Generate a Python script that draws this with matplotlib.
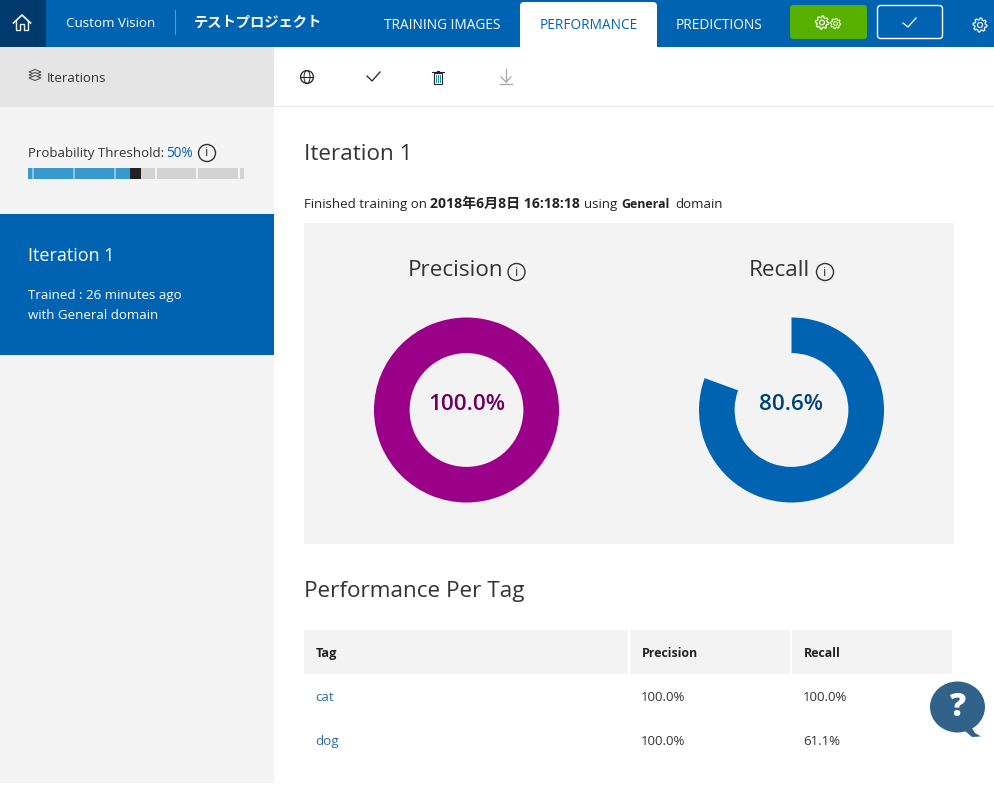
import numpy as np
import matplotlib
matplotlib.use("Agg")
import matplotlib.pyplot as plt
from matplotlib.patches import Rectangle, FancyBboxPatch, Circle, Polygon, Ellipse

plt.rcParams['font.family'] = ['Open Sans', 'Noto Sans CJK JP', 'DejaVu Sans']

W, H = 995, 787
BLUE = '#0063B1'
INK = '#333333'

tabs = ['TRAINING IMAGES', 'PERFORMANCE', 'PREDICTIONS']
tags = ['cat', 'dog']
tag_precision = [100.0, 100.0]
tag_recall = [100.0, 61.1]
overall_precision = 100.0
overall_recall = 80.6
threshold = 50
threshold_ticks = [0, 20, 40, 60, 80, 100]
project = 'テストプロジェクト'

fig = plt.figure(figsize=(W / 100, H / 100), dpi=100, facecolor='white')
ax = fig.add_axes([0, 0, 1, 1])
ax.set_xlim(0, W)
ax.set_ylim(H, 0)
ax.axis('off')


def rect(x0, y0, x1, y1, c, z=1):
    ax.add_patch(Rectangle((x0, y0), x1 - x0, y1 - y0, fc=c, ec='none', zorder=z))


def txt(x, y, s, size, c=INK, ha='left', weight='normal'):
    # optical offset: the reference's text sits a little lower than centre alignment gives
    ax.text(x, y + size * 0.17, s, fontsize=size, color=c, ha=ha, va='center', weight=weight, zorder=5)


# backgrounds
rect(0, 0, W, 47, BLUE)
rect(0, 0, 46, 47, '#003A6C', 2)
rect(0, 47, 274, 107, '#E5E5E5')
rect(0, 107, 274, 783, '#F4F4F4')
rect(274, 106, W, 107, '#E8E8E8')
rect(0, 214, 274, 355, BLUE, 2)
rect(304, 223, 954, 544, '#F3F3F3')

# header
ax.plot([175, 175], [10, 34], color='#5B9BD0', lw=0.8, zorder=3)
txt(66, 22, 'Custom Vision', 9.6, 'white')
txt(194, 21, project, 10.3, 'white', weight='bold')
ax.add_patch(FancyBboxPatch((520, 2), 137, 60, boxstyle='round,pad=0,rounding_size=4',
                            fc='white', ec='none', zorder=2))
rect(515, 47, 660, 62, 'white', 2)
txt(442, 24, tabs[0], 9.8, 'white', ha='center')
txt(589, 24, tabs[1], 9.8, BLUE, ha='center')
txt(719, 24, tabs[2], 9.8, 'white', ha='center')
ax.add_patch(FancyBboxPatch((790, 5), 77, 34, boxstyle='round,pad=0,rounding_size=3',
                            fc='#57B000', ec='none', zorder=2))
ax.add_patch(FancyBboxPatch((877.5, 5.5), 65, 33, boxstyle='round,pad=0,rounding_size=3',
                            fc='none', ec='white', lw=1, zorder=2))
ax.plot([903, 908, 916], [23, 27, 18], color='white', lw=0.9, zorder=3)


def gear(x, y, r, c, lw=0.8):
    ang = np.linspace(0, 2 * np.pi, 65)[:-1]
    rad = np.where((np.arange(64) % 8) < 4, r, r * 0.76)
    pts = np.column_stack([x + rad * np.cos(ang), y + rad * np.sin(ang)])
    ax.add_patch(Polygon(pts, closed=True, fc='none', ec=c, lw=lw, zorder=4))
    ax.add_patch(Circle((x, y), r * 0.36, fc='none', ec=c, lw=lw, zorder=4))


gear(822, 22.5, 6.6, 'white')
gear(835.5, 23.5, 5.2, '#DDF0C0')
gear(980, 25, 7, 'white')

# home icon
ax.plot([13.5, 22, 30.5], [23, 15, 23], color='#E8EEF3', lw=1.3, zorder=4)
ax.plot([16, 16, 20, 20, 24, 24, 28, 28], [21, 30, 30, 24, 24, 30, 30, 21], color='#E8EEF3', lw=1.0, zorder=4)

# toolbar icons
ax.add_patch(Circle((307, 77), 6.4, fc='none', ec='#222222', lw=0.9, zorder=4))
ax.add_patch(Ellipse((307, 77), 6, 12.8, fc='none', ec='#222222', lw=0.7, zorder=4))
ax.plot([301, 313], [77, 77], color='#222222', lw=0.7, zorder=4)
ax.plot([367, 372, 380], [76, 81, 72], color='#222222', lw=0.9, zorder=4)
ax.add_patch(Rectangle((433.5, 73), 8.5, 10.5, fc='none', ec='#223', lw=0.8, zorder=4))
ax.plot([432, 444], [72, 72], color='#223', lw=0.8, zorder=4)
ax.plot([436.5, 439], [70.5, 70.5], color='#223', lw=0.8, zorder=4)
ax.plot([436, 436], [75, 82], color='#007A7A', lw=0.6, zorder=4)
ax.plot([438, 438], [75, 82], color='#007A7A', lw=0.6, zorder=4)
ax.plot([440, 440], [75, 82], color='#007A7A', lw=0.6, zorder=4)
ax.plot([506, 506], [69, 82], color='#A6A6A6', lw=0.9, zorder=4)
ax.plot([501, 506, 511], [77, 82, 77], color='#A6A6A6', lw=0.9, zorder=4)
ax.plot([500, 512], [84, 84], color='#A6A6A6', lw=0.9, zorder=4)

# sidebar
for yy in (72, 75, 78):
    ax.add_patch(Polygon([(29, yy), (35, yy - 2.5), (41, yy), (35, yy + 2.5)], fc='#E5E5E5', ec='#444444',
                         lw=0.7, zorder=4 + yy / 100))
txt(47, 77, 'Iterations', 9.5)
txt(28, 152, 'Probability Threshold:', 9.5)
txt(166, 152, f'{threshold}%', 9.8, BLUE)


def info(x, y, r=8.5):
    ax.add_patch(Circle((x, y), r, fc='none', ec='#333333', lw=1, zorder=4))
    ax.text(x, y, 'i', fontsize=9.5, color='#333333', ha='center', va='center', zorder=5)


info(207, 153)

# threshold slider
bx0, bx1 = 28, 244
to_x = lambda v: bx0 + (bx1 - bx0) * v / 100
rect(bx0, 168, bx1, 179, '#D3D3D3', 2)
rect(bx0, 168, to_x(threshold) - 6, 179, '#3899CC', 3)
rect(to_x(threshold) - 6, 168, to_x(threshold) + 5, 179, '#222222', 4)
for t, tx in zip(threshold_ticks, [32.5, 74, 115, 156, 197, 238.5]):
    col = '#8CC5E3' if t < threshold else '#F4F4F4'
    rect(tx - 1, 168, tx + 1, 179, col, 3)

txt(28, 253.5, 'Iteration 1', 13, 'white')
txt(28, 294, 'Trained : 26 minutes ago', 9.5, 'white')
txt(28, 314, 'with General domain', 9.5, 'white')

# main titles
txt(304, 151.5, 'Iteration 1', 16.2)
txt(304, 202.5, 'Finished training on', 9.5, '#222222')
txt(430, 202.5, '2018年6月8日 16:18:18', 10.1, '#222222', weight='bold')
txt(584, 202.5, 'using', 9.5, '#222222')
txt(621, 202.5, 'General', 8.9, '#222222', weight='bold')
txt(675, 202.5, 'domain', 9.5, '#222222')

txt(408, 268, 'Precision', 16.2)
info(516.5, 272)
txt(749, 268, 'Recall', 16.2)
info(825, 272)


def donut(cx, cy, r, value, color, tcolor):
    a = fig.add_axes([(cx - r) / W, 1 - (cy + r) / H, 2 * r / W, 2 * r / H])
    a.pie([value, 100 - value], colors=[color, 'none'], startangle=90, counterclock=False,
          radius=1, wedgeprops=dict(width=0.385, linewidth=0))
    a.set_xlim(-1, 1)
    a.set_ylim(-1, 1)
    a.patch.set_alpha(0)
    a.text(0, 0.055, f'{value:.1f}%', fontsize=16.2, color=tcolor, ha='center', va='center', weight='semibold')


donut(466.5, 410, 92.5, overall_precision, '#9B0089', '#6B005F')
donut(791.5, 410, 92.5, overall_recall, '#0063B1', '#004275')

# table
txt(304, 588.5, 'Performance Per Tag', 16.2)
rect(304, 630, 628, 674, '#F3F3F3')
rect(630, 630, 790, 674, '#F3F3F3')
rect(792, 630, 952, 674, '#F3F3F3')
txt(316, 652, 'Tag', 9.2, '#222222', weight='bold')
txt(642, 652, 'Precision', 8.9, '#222222', weight='bold')
txt(804, 652, 'Recall', 8.9, '#222222', weight='bold')
for row_y, tag, p, r in zip([695.5, 740], tags, tag_precision, tag_recall):
    txt(315.5, row_y, tag, 9.6, '#2B6CA8')
    txt(641, row_y, f'{p:.1f}%', 9.5)
    txt(803, row_y, f'{r:.1f}%', 9.5)

# help bubble
HELP = '#31628A'
ax.add_patch(Ellipse((957.5, 707), 55, 51, fc=HELP, ec='none', zorder=6))
ax.add_patch(Polygon([(964, 730), (972, 728), (975, 733), (981, 736.5), (972, 737)], fc=HELP, ec='none', zorder=6))
ax.text(957.5, 708, '?', fontsize=23, color='white', ha='center', va='center', weight='extra bold', zorder=7)

fig.savefig('out.png', dpi=100, facecolor='white')
